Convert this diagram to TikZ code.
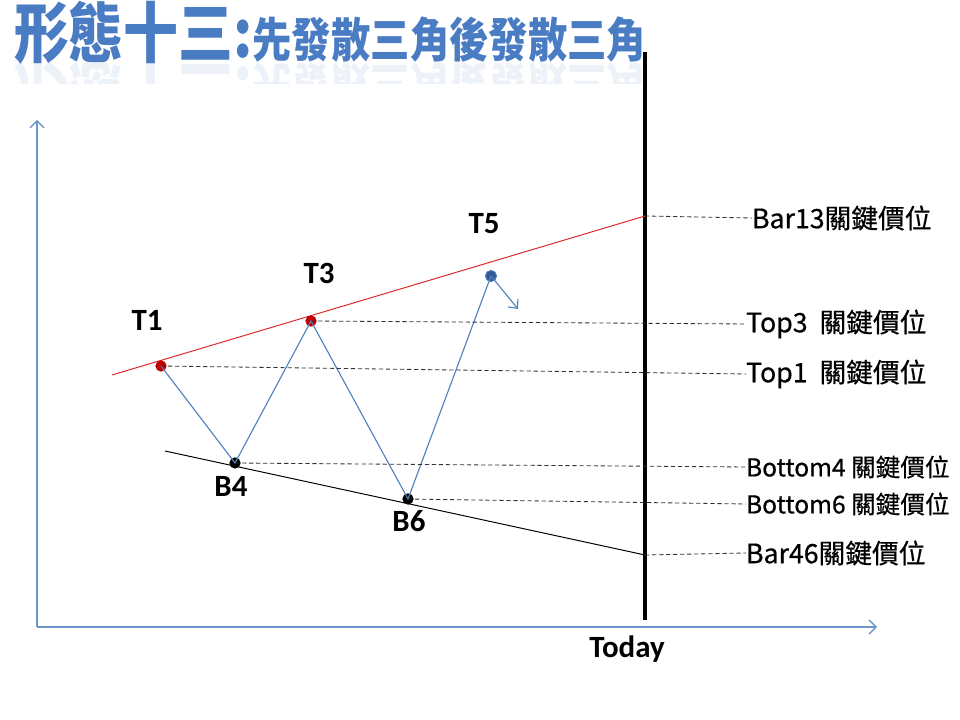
\documentclass[tikz,border=0pt]{standalone}
\usepackage{fontspec}
\setmainfont{Carlito}
\newfontfamily\cjk{Noto Sans CJK TC}
\newfontfamily\cjkmid[FakeBold=0.5]{Noto Sans CJK TC}
\usetikzlibrary{
arrows.meta,
positioning,
calc
}
\definecolor{chartblue}{RGB}{79,129,189}
\definecolor{axisblue}{RGB}{110,150,205}
\definecolor{titleblue}{RGB}{74,124,196}
\definecolor{trendred}{RGB}{222,40,40}
\definecolor{dotred}{RGB}{192,0,0}
\definecolor{dotblue}{RGB}{50,90,150}
\newcommand{\keyprice}{關鍵價位}
\newcommand{\titletext}{{\fontsize{39}{40}\selectfont 形態十三:}{\fontsize{28}{30}\selectfont 先發散三角後發散三角}}

\begin{document}
\begin{tikzpicture}[x=0.025cm, y=-0.025cm,
    every node/.style={inner sep=0pt, outer sep=0pt},
    axisline/.style={axisblue, line width=1.1pt, -{Straight Barb[length=5pt, width=10pt, line width=0.9pt]}},
    zigline/.style={chartblue, line width=0.8pt},
    guide/.style={black!80, densely dashed, line width=0.6pt},
    pointlabel/.style={font=\fontsize{22}{24}\selectfont\bfseries},
    pricelabel/.style={anchor=west, font=\cjkmid\fontsize{19}{22}\selectfont},
    smalllabel/.style={anchor=west, font=\cjkmid\fontsize{17.5}{20}\selectfont},
    dot/.style={circle, minimum size=8pt}]

    \useasboundingbox (0,0) rectangle (960,720);

    % ==================== TITLE ====================
    \node[anchor=base west, yscale=1.2, text=titleblue, font=\cjk\bfseries] (title) at (14,58) {\titletext};
    % faded reflection under the title
    \begin{scope}
        \clip (0,62) rectangle (660,84);
        \node[anchor=base west, yscale=-1.2, text=titleblue, opacity=0.1, font=\cjk\bfseries] (titlemirror) at (14,68) {\titletext};
    \end{scope}

    % ==================== AXES ====================
    \coordinate (origin) at (37,627);
    \coordinate (ytop) at (37,120);
    \coordinate (xend) at (877,627);
    \draw[axisline] (origin) -- (ytop);
    \draw[axisline] (origin) -- (xend);

    % Today line
    \coordinate (todaytop) at (645,52);
    \coordinate (todaybot) at (645,620);
    \draw[line width=2.2pt] (todaytop) -- (todaybot);
    \node[pointlabel] (today) at (627,649) {Today};

    % ==================== TREND LINES ====================
    \coordinate (r0) at (112,375);
    \coordinate (r1) at (645,216);
    \coordinate (k0) at (165,451);
    \coordinate (k1) at (645,555);
    \draw[trendred, line width=0.7pt] (r0) -- (r1);
    \draw[line width=0.7pt] (k0) -- (k1);

    % ==================== TURNING POINTS ====================
    \node[dot, fill=dotred] (t1) at (161,366) {};
    \node[dot, fill=black] (b4) at (235,463) {};
    \node[dot, fill=dotred] (t3) at (311,321) {};
    \node[dot, fill=black] (b6) at (408,499) {};
    \node[dot, fill=dotblue, draw=chartblue, line width=0.6pt] (t5) at (491,276) {};
    \coordinate (t5end) at (518,309);

    \draw[zigline] (t1.center) -- (b4.center) -- (t3.center) -- (b6.center) -- (t5.center);
    \draw[zigline, -{Straight Barb[length=5pt, width=9pt, line width=0.8pt]}] (t5.center) -- (t5end);

    \node[pointlabel] (lt1) at (147,320) {T1};
    \node[pointlabel] (lt3) at (319,273) {T3};
    \node[pointlabel] (lt5) at (484,224) {T5};
    \node[pointlabel] (lb4) at (231,486) {B4};
    \node[pointlabel] (lb6) at (409,521) {B6};

    % ==================== KEY PRICE LABELS ====================
    \node[pricelabel] (bar13) at (752,218) {Bar13\keyprice};
    \node[pricelabel] (top3) at (746,324) {Top3\ \ \keyprice};
    \node[pricelabel] (top1) at (746,374) {Top1\ \ \keyprice};
    \node[smalllabel] (bottom4) at (746,467) {Bottom4 \keyprice};
    \node[smalllabel] (bottom6) at (746,504) {Bottom6 \keyprice};
    \node[pricelabel] (bar46) at (746,553) {Bar46\keyprice};

    \draw[guide] (r1) -- (bar13.west);
    \draw[guide] (t3.center) -- (top3.west);
    \draw[guide] (t1.center) -- (top1.west);
    \draw[guide] (b4.center) -- (bottom4.west);
    \draw[guide] (b6.center) -- (bottom6.west);
    \draw[guide] (k1) -- (bar46.west);

\end{tikzpicture}
\end{document}
